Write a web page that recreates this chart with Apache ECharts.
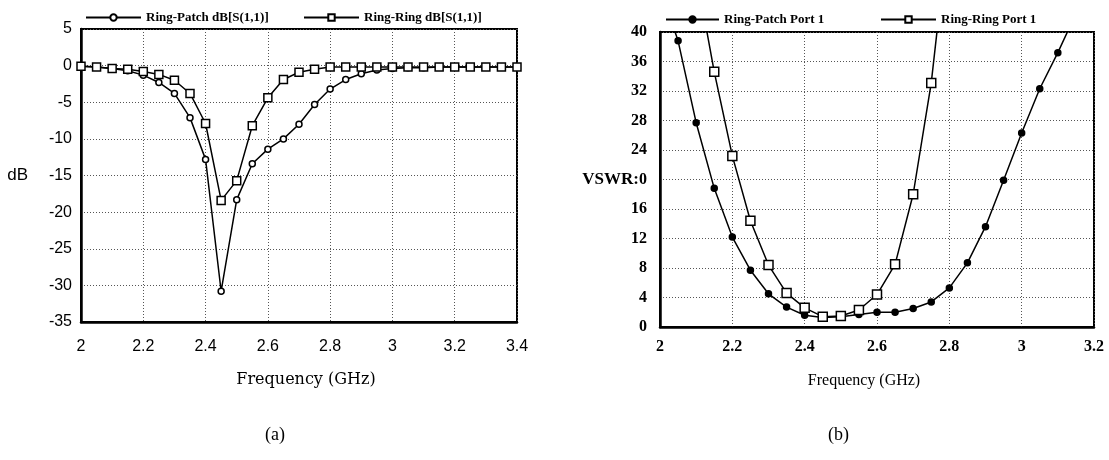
<!DOCTYPE html>
<html>
<head>
<meta charset="utf-8">
<script src="https://cdn.jsdelivr.net/npm/echarts@6/dist/echarts.min.js"></script>
<style>
  html, body { margin: 0; padding: 0; background: #fff; }
  #chart { width: 1109px; height: 460px; }
</style>
</head>
<body>
<div id="chart"></div>
<script>
// (a) return loss, dB
const freqA = [2.00, 2.05, 2.10, 2.15, 2.20, 2.25, 2.30, 2.35, 2.40, 2.45, 2.50, 2.55, 2.60, 2.65, 2.70,
               2.75, 2.80, 2.85, 2.90, 2.95, 3.00, 3.05, 3.10, 3.15, 3.20, 3.25, 3.30, 3.35, 3.40]
const patchDb = [-0.1, -0.2, -0.4, -0.7, -1.3, -2.3, -3.8, -7.1, -12.8, -30.8, -18.3, -13.4, -11.4, -10.0, -8.0,
                 -5.3, -3.2, -1.9, -1.1, -0.6, -0.4, -0.3, -0.3, -0.2, -0.2, -0.2, -0.2, -0.2, -0.2]
const ringDb = [-0.1, -0.2, -0.4, -0.5, -0.8, -1.2, -2.0, -3.8, -7.9, -18.4, -15.7, -8.2, -4.4, -1.9, -0.9,
                -0.5, -0.2, -0.2, -0.2, -0.2, -0.2, -0.2, -0.2, -0.2, -0.2, -0.2, -0.2, -0.2, -0.2]
const freqTicksA = [2, 3.4, 0.2]   // min, max, step
const dbTicks = [-35, 5, 5]

// (b) VSWR
const freqPatchB = [2.00, 2.05, 2.10, 2.15, 2.20, 2.25, 2.30, 2.35, 2.40, 2.45, 2.50, 2.55,
                    2.60, 2.65, 2.70, 2.75, 2.80, 2.85, 2.90, 2.95, 3.00, 3.05, 3.10, 3.15]
const patchVswr = [46, 38.8, 27.7, 18.8, 12.2, 7.7, 4.5, 2.7, 1.6, 1.3, 1.4, 1.7,
                   2.0, 2.0, 2.5, 3.4, 5.3, 8.7, 13.6, 19.9, 26.3, 32.3, 37.2, 42.5]
const freqRingB = [2.10, 2.15, 2.20, 2.25, 2.30, 2.35, 2.40, 2.45, 2.50, 2.55, 2.60, 2.65, 2.70, 2.75, 2.80]
const ringVswr = [48, 34.6, 23.2, 14.4, 8.4, 4.6, 2.6, 1.4, 1.5, 2.3, 4.4, 8.5, 18.0, 33.1, 55]
const freqTicksB = [2, 3.2, 0.2]
const vswrTicks = [0, 40, 4]

const pairs = (xs, ys) => xs.map((x, i) => [x, ys[i]])
const fmtFreq = v => String(+v.toFixed(1))

const gridLine = {show: true, lineStyle: {color: '#555', type: [1, 2], width: 1}}
const sansTick = {fontFamily: 'Liberation Sans', fontSize: 16, color: '#000'}
const boldTick = {fontFamily: 'Liberation Serif', fontWeight: 'bold', fontSize: 16, color: '#000'}
const legendText = {fontFamily: 'Liberation Serif', fontWeight: 'bold', fontSize: 13, color: '#000'}

function lineSeries(name, idx, data, symbol, size, fill) {
    return {
        name: name, type: 'line', xAxisIndex: idx, yAxisIndex: idx, data: data,
        symbol: symbol, symbolSize: size, showAllSymbol: true,
        lineStyle: {color: '#000', width: 1.5},
        itemStyle: {color: fill, borderColor: '#000', borderWidth: 1.5},
        emphasis: {disabled: true}, animation: false
    }
}

const chart = echarts.init(document.getElementById('chart'))
chart.setOption({
    backgroundColor: '#fff',
    animation: false,
    legend: [
        {left: 80, top: 6, itemWidth: 55, itemHeight: 8, textStyle: legendText, data: ['Ring-Patch dB[S(1,1)]']},
        {left: 298, top: 6, itemWidth: 55, itemHeight: 8, textStyle: legendText, data: ['Ring-Ring dB[S(1,1)]']},
        {left: 660, top: 8, itemWidth: 53, itemHeight: 8, textStyle: legendText, data: ['Ring-Patch Port 1']},
        {left: 875, top: 8, itemWidth: 55, itemHeight: 8, textStyle: legendText, data: ['Ring-Ring Port 1']}
    ],
    grid: [
        {left: 81, top: 29, width: 436, height: 293, show: true, borderColor: '#000', borderWidth: 2},
        {left: 660, top: 32, width: 434, height: 295, show: true, borderColor: '#000', borderWidth: 2}
    ],
    xAxis: [
        {
            type: 'value', gridIndex: 0, min: freqTicksA[0], max: freqTicksA[1], interval: freqTicksA[2],
            name: 'Frequency (GHz)', nameLocation: 'middle', nameGap: 50,
            nameTextStyle: {fontFamily: 'DejaVu Serif', fontSize: 16, color: '#000', padding: [0, 0, 0, 14]},
            axisLine: {onZero: false, lineStyle: {color: '#000', width: 2.5}}, axisTick: {show: false},
            axisLabel: Object.assign({margin: 17, formatter: fmtFreq}, sansTick),
            splitLine: gridLine
        },
        {
            type: 'value', gridIndex: 1, min: freqTicksB[0], max: freqTicksB[1], interval: freqTicksB[2],
            name: 'Frequency (GHz)', nameLocation: 'middle', nameGap: 46,
            nameTextStyle: {fontFamily: 'Liberation Serif', fontSize: 16, color: '#000', padding: [0, 26, 0, 0]},
            axisLine: {onZero: false, lineStyle: {color: '#000', width: 2.5}}, axisTick: {show: false},
            axisLabel: Object.assign({margin: 12, formatter: fmtFreq}, boldTick),
            splitLine: gridLine
        }
    ],
    yAxis: [
        {
            type: 'value', gridIndex: 0, min: dbTicks[0], max: dbTicks[1], interval: dbTicks[2],
            name: 'dB', nameLocation: 'middle', nameRotate: 0, nameGap: 53,
            nameTextStyle: {fontFamily: 'Liberation Sans', fontSize: 17, color: '#000'},
            axisLine: {show: true, onZero: false, lineStyle: {color: '#000', width: 2.5}}, axisTick: {show: false},
            axisLabel: Object.assign({margin: 9}, sansTick),
            splitLine: gridLine
        },
        {
            type: 'value', gridIndex: 1, min: vswrTicks[0], max: vswrTicks[1], interval: vswrTicks[2],
            axisLine: {show: true, onZero: false, lineStyle: {color: '#000', width: 2.5}}, axisTick: {show: false},
            axisLabel: Object.assign({
                margin: 13,
                formatter: v => v === 20 ? '{n|VSWR:}0' : String(v),
                rich: {n: {fontFamily: 'Liberation Serif', fontWeight: 'bold', fontSize: 17, color: '#000'}}
            }, boldTick),
            splitLine: gridLine
        }
    ],
    graphic: [
        {type: 'text', left: 265, top: 426, style: {text: '(a)', font: '18px "Liberation Serif"', fill: '#000'}},
        {type: 'text', left: 828, top: 426, style: {text: '(b)', font: '18px "Liberation Serif"', fill: '#000'}}
    ],
    series: [
        lineSeries('Ring-Patch dB[S(1,1)]', 0, pairs(freqA, patchDb), 'circle', 6, '#fff'),
        lineSeries('Ring-Ring dB[S(1,1)]', 0, pairs(freqA, ringDb), 'rect', 8, '#fff'),
        lineSeries('Ring-Patch Port 1', 1, pairs(freqPatchB, patchVswr), 'circle', 6, '#000'),
        lineSeries('Ring-Ring Port 1', 1, pairs(freqRingB, ringVswr), 'rect', 9, '#fff')
    ]
})
</script>
</body>
</html>
